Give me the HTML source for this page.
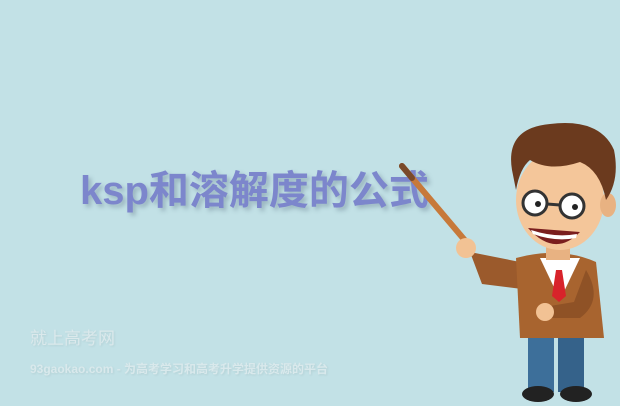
<!DOCTYPE html>
<html><head><meta charset="utf-8">
<style>
html,body{margin:0;padding:0}
body{width:620px;height:406px;background:#c2e1e6;position:relative;overflow:hidden;font-family:"Liberation Sans","Noto Sans CJK SC",sans-serif}
.title{position:absolute;left:80px;top:158px;font-size:40px;font-weight:bold;color:#7c86cc;text-shadow:3px 3px 4px rgba(80,100,120,.35);letter-spacing:0px;white-space:nowrap}
.wm1{position:absolute;left:30px;top:324px;font-size:17px;color:#dbe9ec;text-shadow:1px 1px 2px rgba(0,0,0,.08)}
.wm2{position:absolute;left:30px;top:360px;font-size:12px;font-weight:bold;color:#d9e9ec;text-shadow:1px 1px 2px rgba(0,0,0,.08)}
svg{position:absolute;left:0;top:0}
</style></head>
<body>
<div class="title">ksp和溶解度的公式</div>
<div class="wm1">就上高考网</div>
<div class="wm2">93gaokao.com - 为高考学习和高考升学提供资源的平台</div>
<svg width="620" height="406">
  <!-- pointer stick -->
  <line x1="402" y1="166" x2="468" y2="244" stroke="#c7793a" stroke-width="6" stroke-linecap="round"/>
  <line x1="402" y1="166" x2="412" y2="178" stroke="#7a4a2a" stroke-width="6" stroke-linecap="round"/>
  <!-- legs -->
  <rect x="528" y="330" width="26" height="62" fill="#3d6f9a"/>
  <rect x="558" y="330" width="26" height="62" fill="#35628a"/>
  <!-- shoes -->
  <ellipse cx="538" cy="394" rx="16" ry="8" fill="#222"/>
  <ellipse cx="576" cy="394" rx="16" ry="8" fill="#222"/>
  <!-- arm pointing -->
  <path d="M470 252 L520 262 L530 290 L482 284 Z" fill="#9b5a2c"/>
  <circle cx="466" cy="248" r="10" fill="#f2c294"/>
  <!-- body jacket -->
  <path d="M516 258 Q560 246 596 262 L604 338 L520 338 Z" fill="#a8642f"/>
  <path d="M540 258 L560 300 L580 258 Z" fill="#fff"/>
  <path d="M556 270 L562 270 L566 296 L559 302 L552 296 Z" fill="#d8232a"/>
  <!-- arm on belly -->
  <path d="M586 270 Q604 300 580 318 L548 318 L550 306 L574 302 Z" fill="#8f5226"/>
  <circle cx="545" cy="312" r="9" fill="#f2c294"/>
  <!-- neck -->
  <rect x="546" y="238" width="24" height="22" fill="#e8b282"/>
  <!-- head -->
  <ellipse cx="560" cy="200" rx="44" ry="50" fill="#f4c69a"/>
  <ellipse cx="608" cy="205" rx="8" ry="12" fill="#e8b282"/>
  <!-- hair -->
  <path d="M512 170 Q505 128 550 124 Q600 118 614 150 Q620 180 606 200 Q600 170 580 162 Q550 172 530 160 Q520 168 516 190 Z" fill="#6b3a1e"/>
  <!-- glasses -->
  <circle cx="535" cy="203" r="12" fill="#fff" stroke="#333" stroke-width="3"/>
  <circle cx="572" cy="206" r="12" fill="#fff" stroke="#333" stroke-width="3"/>
  <line x1="547" y1="204" x2="560" y2="205" stroke="#333" stroke-width="3"/>
  <circle cx="538" cy="204" r="3" fill="#222"/>
  <circle cx="575" cy="207" r="3" fill="#222"/>
  <!-- mouth -->
  <path d="M528 228 Q555 258 580 232 Z" fill="#7a1e1e"/>
  <path d="M531 230 Q555 238 577 234 L576 238 Q555 242 533 234 Z" fill="#fff"/>
</svg>
</body></html>
